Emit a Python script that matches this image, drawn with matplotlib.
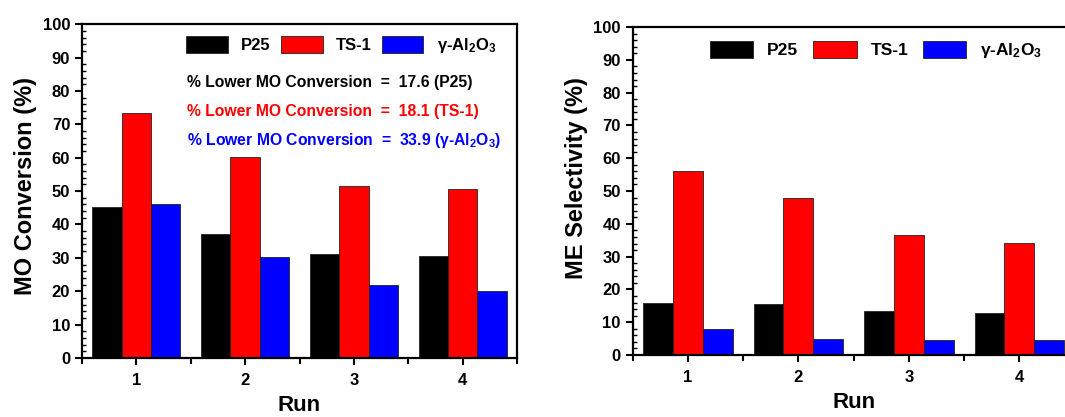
import matplotlib
matplotlib.use("Agg")
import matplotlib.pyplot as plt
from matplotlib.ticker import MultipleLocator
import numpy as np

plt.rcParams['font.family'] = ['Liberation Sans', 'DejaVu Sans']
plt.rcParams['font.weight'] = 'bold'
plt.rcParams['mathtext.fontset'] = 'custom'
plt.rcParams['mathtext.rm'] = 'Liberation Sans:bold'
plt.rcParams['mathtext.default'] = 'rm'

runs = [1, 2, 3, 4]
catalysts = ["P25", "TS-1", "γ-Al$_2$O$_3$"]
colors = ["#000000", "#ff0000", "#0000ff"]

# MO conversion (%)
conv_p25 = [45.3, 37.2, 31.3, 30.7]
conv_ts1 = [73.3, 60.1, 51.5, 50.5]
conv_al2o3 = [46.0, 30.2, 22.0, 20.0]

# ME selectivity (%)
sel_p25 = [16.0, 15.7, 13.4, 12.8]
sel_ts1 = [56.2, 48.0, 36.5, 34.2]
sel_al2o3 = [7.8, 5.0, 4.6, 4.6]

notes = ["% Lower MO Conversion  =  17.6 (P25)",
         "% Lower MO Conversion  =  18.1 (TS-1)",
         "% Lower MO Conversion  =  33.9 (γ-Al$_2$O$_3$)"]

fig = plt.figure(figsize=(10.65, 4.17), dpi=100)
ax1 = fig.add_axes([0.077, 0.1415, 0.4085, 0.8005])
ax2 = fig.add_axes([0.594, 0.1487, 0.415, 0.7863])

w = 0.27
x = np.array(runs)


def draw(ax, series, ylabel, label_y, leg_x, leg_y, leg_fs, colsp):
    for i, (vals, c, lab) in enumerate(zip(series, colors, catalysts)):
        ax.bar(x + (i - 1) * w, vals, w, color=c, edgecolor="#222222",
               linewidth=0.6, label=lab)
    ax.set_xlim(0.5, 4.5)
    ax.set_ylim(0, 100)
    ax.set_xticks(runs)
    ax.xaxis.set_minor_locator(MultipleLocator(0.5))
    ax.yaxis.set_major_locator(MultipleLocator(10))
    ax.yaxis.set_minor_locator(MultipleLocator(2))
    ax.tick_params(axis="both", which="major", direction="out", length=5,
                   width=1.5, labelsize=12)
    ax.tick_params(axis="y", which="minor", direction="in", length=3,
                   width=1)
    ax.tick_params(axis="x", which="minor", direction="out", length=4,
                   width=1.5)
    ax.tick_params(axis="x", which="major", pad=6)
    for lbl in ax.get_xticklabels() + ax.get_yticklabels():
        lbl.set_fontweight("bold")
    for s in ax.spines.values():
        s.set_linewidth(1.6)
    ax.set_xlabel("Run", fontsize=16, fontweight="bold", labelpad=5)
    ax.set_ylabel(ylabel, fontsize=17, fontweight="bold", labelpad=4,
                  y=label_y)
    leg = ax.legend(loc="upper right", bbox_to_anchor=(leg_x, leg_y), ncol=3,
                    frameon=False, fontsize=leg_fs, handlelength=2.5,
                    handleheight=1.2, columnspacing=colsp, handletextpad=0.8,
                    borderaxespad=0.0)
    for t in leg.get_texts():
        t.set_fontweight("bold")
    return leg


draw(ax1, [conv_p25, conv_ts1, conv_al2o3], "MO Conversion (%)",
     0.515, 0.968, 0.985, 12, 0.6)
draw(ax2, [sel_p25, sel_ts1, sel_al2o3], "ME Selectivity (%)",
     0.54, 0.943, 0.98, 12.5, 0.85)

for k, (txt, c) in enumerate(zip(notes, colors)):
    ax1.text(0.242, 0.826 - k * 0.087, txt, color=c, fontsize=11.3,
             fontweight="bold", transform=ax1.transAxes, va="center")

fig.savefig("out.png", dpi=100)
